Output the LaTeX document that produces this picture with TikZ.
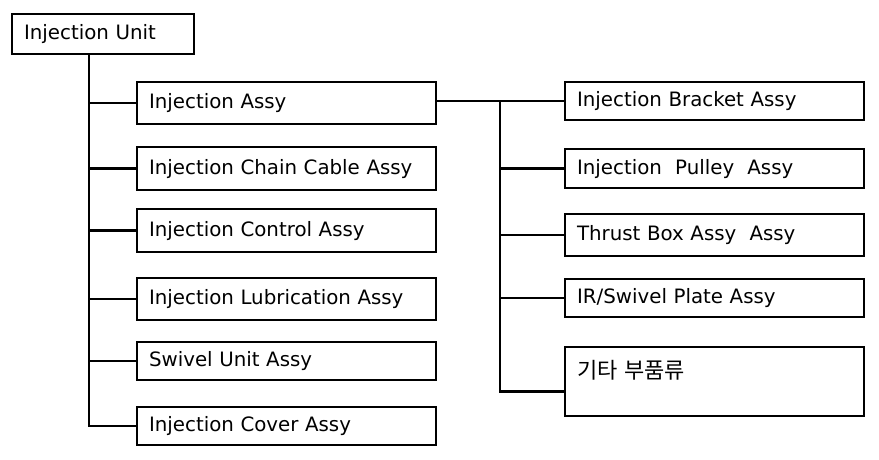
\documentclass[tikz,border=0pt]{standalone}
\usepackage{fontspec}
\setmainfont{DejaVu Sans}
\newfontfamily\krfont{Noto Sans CJK KR}
\begin{document}
\begin{tikzpicture}[x=1pt,y=-1pt,
  box/.style={draw, line width=2.1pt, anchor=north west, inner xsep=12pt, inner ysep=0pt,
    align=left, font=\fontsize{19.8}{22}\selectfont},
  lbox/.style={box, text width=275pt},
  link/.style={line width=2.4pt}]
\useasboundingbox (0,0) rectangle (879,459);
\node[box, text width=158pt, minimum height=40pt] (unit) at (11,13) {Injection Unit};
% left column
\node[lbox, minimum height=42pt] (assy) at (136,81) {Injection Assy};
\node[lbox, minimum height=43pt] (chain) at (136,146) {Injection Chain Cable Assy};
\node[lbox, minimum height=43pt] (control) at (136,208) {Injection Control Assy};
\node[lbox, minimum height=42pt] (lube) at (136,277) {Injection Lubrication Assy};
\node[lbox, minimum height=38pt] (swivel) at (136,341) {Swivel Unit Assy};
\node[lbox, minimum height=38pt] (cover) at (136,406) {Injection Cover Assy};
% right column
\node[lbox, minimum height=38pt] (bracket) at (564,81) {Injection Bracket Assy};
\node[lbox, minimum height=39pt] (pulley) at (564,148) {Injection\ \ Pulley\ \ Assy};
\node[lbox, minimum height=42pt] (thrust) at (564,213) {Thrust Box Assy\ \ Assy};
\node[lbox, minimum height=38pt] (ir) at (564,278) {IR/Swivel Plate Assy};
\node[lbox, text height=31pt, text depth=38pt] (etc) at (564,346) {\krfont\fontsize{22}{24}\selectfont 기타 부품류};
% coordinates for trunks
\coordinate (ltop) at ([xshift=-14pt]unit.south);
\coordinate (rtrunk) at (500,0);
% left tree
\draw[link] (ltop) |- (cover.west);
\foreach \n in {assy,chain,control,lube,swivel}
  \draw[link] (ltop |- \n.west) -- (\n.west);
% right tree
\draw[link] (assy.east |- bracket.west) -- (bracket.west);
\draw[link] (rtrunk |- bracket.west) |- ([yshift=-10pt]etc.west);
\foreach \n in {pulley,thrust,ir}
  \draw[link] (rtrunk |- \n.west) -- (\n.west);
\end{tikzpicture}
\end{document}
